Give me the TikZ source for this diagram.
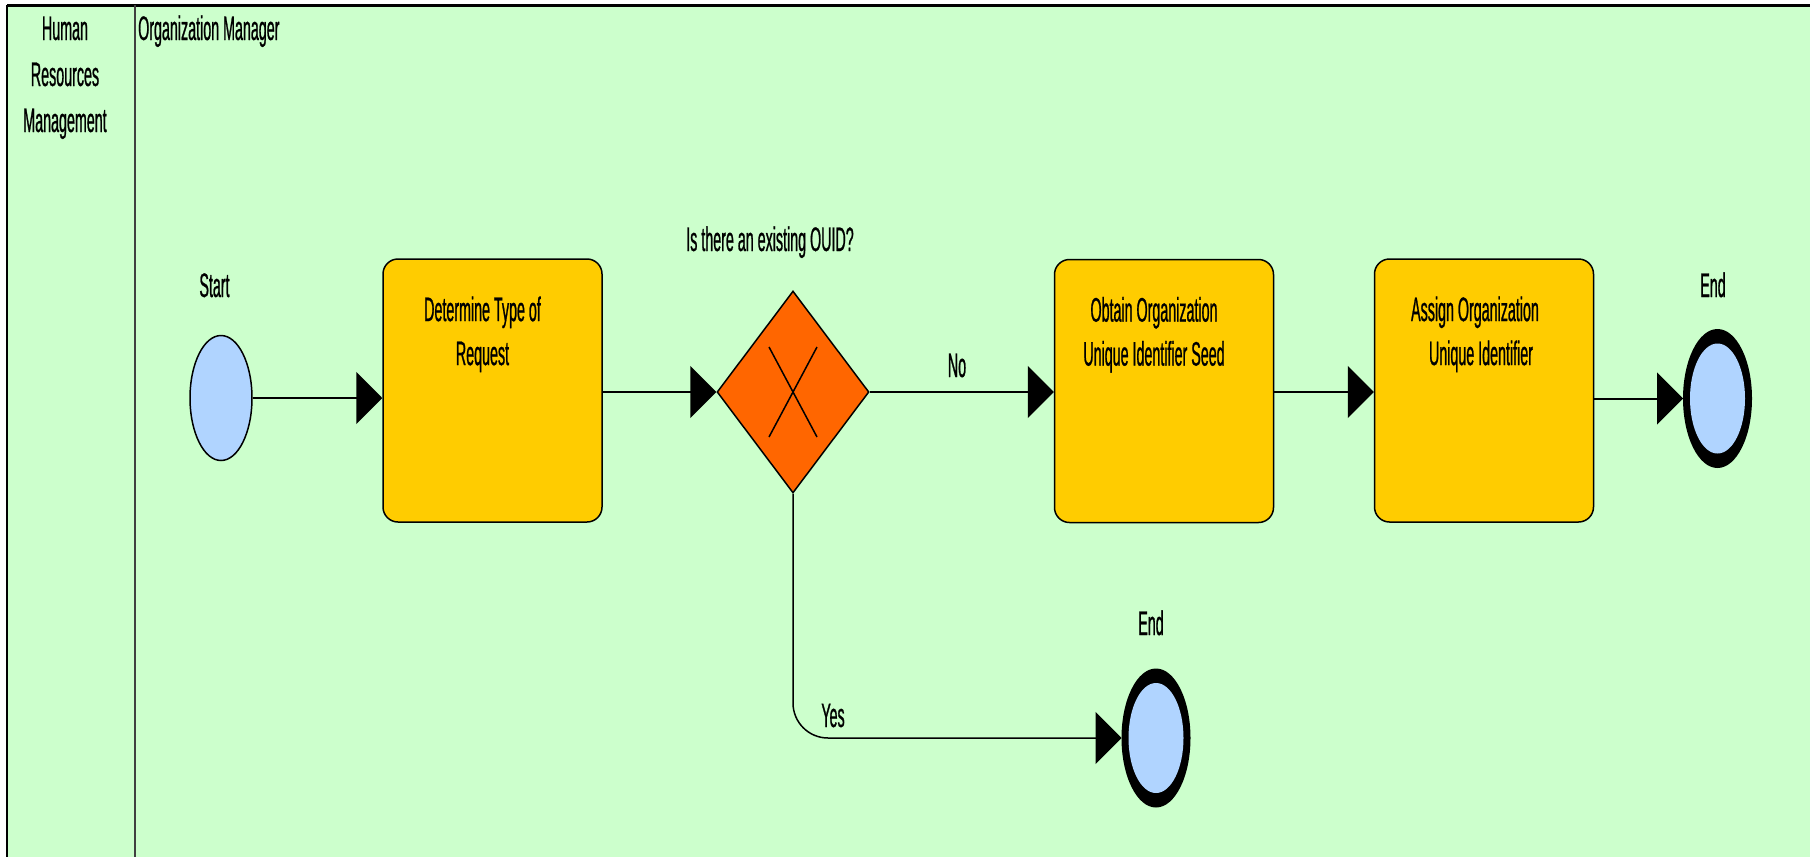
\documentclass[tikz,border=0pt]{standalone}
\usepackage{fontspec}
\newfontfamily\nf[FakeStretch=0.42,FakeBold=0.7]{Liberation Sans}
\usetikzlibrary{arrows.meta,shapes.geometric}
\definecolor{lanegreen}{HTML}{CCFFCC}
\definecolor{taskyellow}{HTML}{FFCC00}
\definecolor{gateorange}{HTML}{FF6600}
\definecolor{eventblue}{HTML}{B0D4FF}
\definecolor{divgray}{HTML}{404040}
\begin{document}
\begin{tikzpicture}[x=1pt,y=-1pt,
  txt/.style={font=\fontsize{34}{44}\selectfont\nf, inner sep=0pt, text=black},
  task/.style={draw=black, line width=1.5pt, fill=taskyellow, rounded corners=15pt, minimum width=219pt, minimum height=263pt, inner sep=0pt},
  tasktext/.style={txt, anchor=north, align=center},
  startev/.style={ellipse, draw=black, line width=1.5pt, fill=eventblue, minimum width=62pt, minimum height=125pt, inner sep=0pt},
  endev/.style={ellipse, fill=black, minimum width=69pt, minimum height=139pt, inner sep=0pt, outer sep=0pt,
    path picture={\fill[eventblue] (path picture bounding box.center) ellipse [x radius=27.5pt, y radius=55pt];}},
  gate/.style={diamond, draw=black, line width=1.5pt, fill=gateorange, minimum width=152pt, minimum height=202pt, inner sep=0pt},
  flow/.style={draw=black, line width=2pt, -{Triangle[length=26pt,width=52pt]}},
]
\useasboundingbox (0,0) rectangle (1810,857);
% pool background and borders
\fill[lanegreen] (7,5) rectangle (1810,857);
\draw[black, line width=3pt] (7,5) -- (1810,5);
\draw[black, line width=2pt] (7,5) -- (7,857);
\draw[divgray, line width=2.5pt] (135,5) -- (135,857);
\node[txt, anchor=base] (pool) at (65,40) {Human};
\node[txt, anchor=base] (pool2) at (65,86) {Resources};
\node[txt, anchor=base] (pool3) at (65,132) {Management};
\node[txt, anchor=base west] (lane) at (138,40) {Organization Manager};

% events
\node[startev] (start) at (221,398) {};
\node[txt, anchor=base] (startl) at (214.5,297) {Start};
\node[endev] (end1) at (1717.5,398.5) {};
\node[txt, anchor=base] (end1l) at (1713,297) {End};
\node[endev] (end2) at (1156,738) {};
\node[txt, anchor=base] (end2l) at (1151,635) {End};

% tasks
\node[task] (t1) at (492.5,390.5) {};
\node[tasktext] (t1t) at ([xshift=-10pt,yshift=-38pt]t1.north) {Determine Type of\\Request};
\node[task] (t3) at (1164,391) {};
\node[tasktext] (t3t) at ([xshift=-10pt,yshift=-38pt]t3.north) {Obtain Organization\\Unique Identifier Seed};
\node[task] (t4) at (1484,390.5) {};
\node[tasktext] (t4t) at ([xshift=-9pt,yshift=-38pt]t4.north) {Assign Organization\\\hspace*{12pt}Unique Identifier};

% gateway
\node[gate] (dia) at (793,392) {};
\draw[black, line width=1.5pt] ([shift={(-24pt,45pt)}]dia.center) -- ([shift={(24pt,-45pt)}]dia.center);
\draw[black, line width=1.5pt] ([shift={(24pt,45pt)}]dia.center) -- ([shift={(-24pt,-45pt)}]dia.center);
\node[txt, anchor=base] (q) at (770,251) {Is there an existing OUID?};

% flows
\draw[flow] (start.east) -- (start.east -| t1.west);
\draw[flow] (t1.east |- dia.west) -- (dia.west);
\draw[flow] (dia.east) -- (dia.east -| t3.west);
\node[txt, anchor=base] (nol) at (957,377) {No};
\draw[flow] (t3.east |- dia.east) -- (t4.west |- dia.east);
\draw[flow] (t4.east |- end1.west) -- (end1.west);
\draw[flow, line width=1.5pt, rounded corners=35pt] (dia.south) |- (end2.west);
\node[txt, anchor=base] (yesl) at (833,727) {Yes};
\end{tikzpicture}
\end{document}
